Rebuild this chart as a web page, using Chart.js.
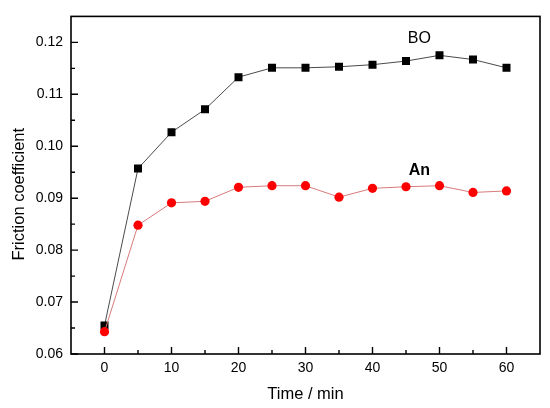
<!DOCTYPE html>
<html>
<head>
<meta charset="utf-8">
<script src="https://cdn.jsdelivr.net/npm/chart.js@4"></script>
<style>
html,body{margin:0;padding:0;background:#fff;}
#wrap{width:550px;height:408px;position:relative;}
</style>
</head>
<body>
<div id="wrap"><canvas id="c"></canvas></div>
<script>
const times = [0, 5, 10, 15, 20, 25, 30, 35, 40, 45, 50, 55, 60];
const boValues = [0.0655, 0.0957, 0.1027, 0.1071, 0.1133, 0.1151, 0.1151, 0.1153, 0.1157, 0.1164, 0.1175, 0.1167, 0.1151];
const anValues = [0.0643, 0.0848, 0.0891, 0.0894, 0.0921, 0.0924, 0.0924, 0.0902, 0.0919, 0.0922, 0.0924, 0.0911, 0.0914];
const xTickLabels = [0, 10, 20, 30, 40, 50, 60];
const xMinorTicks = [5, 15, 25, 35, 45, 55];
const yTickLabels = [0.06, 0.07, 0.08, 0.09, 0.10, 0.11, 0.12];
const yMinorTicks = [0.065, 0.075, 0.085, 0.095, 0.105, 0.115];
const seriesNames = ['BO', 'An'];
const seriesLabelAt = [[47, 0.1207], [47, 0.0954]];
const xTitle = 'Time / min';
const yTitle = 'Friction coefficient';

const toPts = (xs, ys) => xs.map((x, i) => ({x: x, y: ys[i]}));
const FAMILY = '"Liberation Sans", Arial, sans-serif';

const framePlugin = {
  id: 'frame',
  afterDraw(chart) {
    const {ctx, chartArea: a, scales: {x, y}} = chart;
    ctx.save();
    ctx.strokeStyle = '#000';
    ctx.lineWidth = 1.6;
    ctx.strokeRect(a.left, a.top, a.right - a.left, a.bottom - a.top);
    ctx.lineWidth = 1.4;
    ctx.beginPath();
    xTickLabels.forEach(v => { const px = x.getPixelForValue(v); ctx.moveTo(px, a.bottom); ctx.lineTo(px, a.bottom - 7); });
    xMinorTicks.forEach(v => { const px = x.getPixelForValue(v); ctx.moveTo(px, a.bottom); ctx.lineTo(px, a.bottom - 4); });
    yTickLabels.forEach(v => { const py = y.getPixelForValue(v); ctx.moveTo(a.left, py); ctx.lineTo(a.left + 7, py); });
    yMinorTicks.forEach(v => { const py = y.getPixelForValue(v); ctx.moveTo(a.left, py); ctx.lineTo(a.left + 4, py); });
    ctx.stroke();
    ctx.fillStyle = '#000';
    ctx.textAlign = 'center';
    ctx.textBaseline = 'middle';
    seriesNames.forEach((n, i) => {
      ctx.font = (i === 1 ? 'bold ' : '') + '16px ' + FAMILY;
      ctx.fillText(n, x.getPixelForValue(seriesLabelAt[i][0]), y.getPixelForValue(seriesLabelAt[i][1]));
    });
    ctx.font = '16.5px ' + FAMILY;
    ctx.translate(19, a.top + (a.bottom - a.top) / 2 + 9);
    ctx.rotate(-Math.PI / 2);
    ctx.fillText(yTitle, 0, 0);
    ctx.restore();
  }
};

const font = {family: FAMILY, size: 14};

new Chart(document.getElementById('c'), {
  type: 'scatter',
  data: {
    datasets: [
      {
        label: seriesNames[0],
        data: toPts(times, boValues),
        showLine: true,
        borderColor: '#4a4a4a',
        borderWidth: 1,
        pointStyle: 'rect',
        pointRadius: 5.66,
        pointHoverRadius: 5.66,
        pointBackgroundColor: '#000',
        pointBorderColor: '#000',
        pointBorderWidth: 0,
        order: 1
      },
      {
        label: seriesNames[1],
        data: toPts(times, anValues),
        showLine: true,
        borderColor: '#d77a7a',
        borderWidth: 1,
        pointStyle: 'circle',
        pointRadius: 4.6,
        pointHoverRadius: 4.6,
        pointBackgroundColor: '#ff0000',
        pointBorderColor: '#ff0000',
        pointBorderWidth: 0,
        order: 0
      }
    ]
  },
  options: {
    responsive: true,
    maintainAspectRatio: false,
    animation: false,
    events: [],
    layout: {padding: {top: 10, right: 10, left: 0, bottom: 0}},
    plugins: {legend: {display: false}, tooltip: {enabled: false}},
    scales: {
      x: {
        type: 'linear',
        min: -5,
        max: 65,
        afterBuildTicks: s => { s.ticks = xTickLabels.map(v => ({value: v})); },
        afterFit: s => { s.height = 54; },
        grid: {display: false, drawTicks: false},
        border: {display: false},
        ticks: {color: '#000', font: font, padding: 6, callback: v => String(v)},
        title: {display: true, text: xTitle, color: '#000', font: {family: FAMILY, size: 16.5}, padding: {top: 0, bottom: 4}}
      },
      y: {
        type: 'linear',
        min: 0.06,
        max: 0.125,
        afterBuildTicks: s => { s.ticks = yTickLabels.map(v => ({value: v})); },
        afterFit: s => { s.width = 71; },
        grid: {display: false, drawTicks: false},
        border: {display: false},
        ticks: {color: '#000', font: font, padding: 8, callback: v => v.toFixed(2)}
      }
    }
  },
  plugins: [framePlugin]
});
</script>
</body>
</html>
